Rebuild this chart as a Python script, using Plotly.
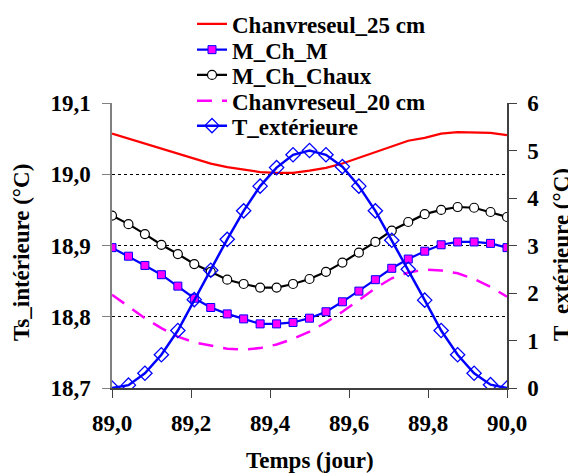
import plotly.graph_objects as go

time_days = [89.0, 89.0417, 89.0833, 89.125, 89.1667, 89.2083, 89.25, 89.2917, 89.3333,
             89.375, 89.4167, 89.4583, 89.5, 89.5417, 89.5833, 89.625, 89.6667, 89.7083,
             89.75, 89.7917, 89.8333, 89.875, 89.9167, 89.9583, 90.0]

chanvre_25 = [19.057, 19.050, 19.044, 19.037, 19.030, 19.022, 19.015, 19.010, 19.006,
              19.003, 19.002, 19.002, 19.005, 19.009, 19.015, 19.023, 19.031, 19.039,
              19.047, 19.051, 19.057, 19.059, 19.059, 19.058, 19.055]

m_ch_m = [18.897, 18.885, 18.872, 18.859, 18.843, 18.826, 18.813, 18.804, 18.797,
          18.790, 18.790, 18.792, 18.798, 18.807, 18.821, 18.836, 18.852, 18.868,
          18.881, 18.892, 18.901, 18.905, 18.905, 18.903, 18.897]

m_ch_chaux = [18.942, 18.930, 18.916, 18.901, 18.888, 18.874, 18.863, 18.852, 18.846,
              18.841, 18.841, 18.846, 18.853, 18.863, 18.876, 18.890, 18.905, 18.921,
              18.933, 18.944, 18.950, 18.954, 18.953, 18.947, 18.940]

chanvre_20 = [18.831, 18.814, 18.798, 18.784, 18.772, 18.764, 18.759, 18.755, 18.754,
              18.756, 18.761, 18.769, 18.779, 18.792, 18.807, 18.824, 18.840, 18.854,
              18.862, 18.866, 18.865, 18.861, 18.853, 18.842, 18.828]

t_exterieure = [0.0, 0.06, 0.31, 0.70, 1.21, 1.86, 2.48, 3.13, 3.73, 4.25, 4.64, 4.91,
                5.0, 4.91, 4.66, 4.25, 3.73, 3.11, 2.50, 1.85, 1.21, 0.70, 0.31, 0.07, 0.0]

x_ticks = [89.0, 89.2, 89.4, 89.6, 89.8, 90.0]
left_ticks = [18.7, 18.8, 18.9, 19.0, 19.1]
right_ticks = [0, 1, 2, 3, 4, 5, 6]

x_title = "Temps (jour)"
y_title = "Ts_intérieure (°C)"
y2_title = "T_extérieure (°C)"

FONT = "Liberation Serif"
FIG_W, FIG_H = 568, 466  # page body adds an 8 px margin

fig = go.Figure()
fig.add_trace(go.Scatter(x=time_days, y=chanvre_25, name="Chanvreseul_25 cm", mode="lines",
                         legend="legend",
                         line=dict(color="#FF0000", width=2.2)))
fig.add_trace(go.Scatter(x=time_days, y=m_ch_m, name="M_Ch_M", mode="lines+markers",
                         legend="legend2",
                         line=dict(color="#0000FF", width=2.2),
                         marker=dict(symbol="square", size=8, color="#FF00FF",
                                     line=dict(color="#0000FF", width=1))))
fig.add_trace(go.Scatter(x=time_days, y=m_ch_chaux, name="M_Ch_Chaux", mode="lines+markers",
                         legend="legend3",
                         line=dict(color="#000000", width=2.2),
                         marker=dict(symbol="circle", size=9, color="#FFFFFF",
                                     line=dict(color="#000000", width=1.2))))
fig.add_trace(go.Scatter(x=time_days, y=chanvre_20, name="Chanvreseul_20 cm", mode="lines",
                         legend="legend4",
                         line=dict(color="#FF00FF", width=2.5, dash="15px,10px")))
fig.add_trace(go.Scatter(x=time_days, y=t_exterieure, name="T_extérieure", mode="lines+markers",
                         yaxis="y2", legend="legend5",
                         line=dict(color="#0000FF", width=2.5),
                         marker=dict(symbol="diamond-open", size=11, color="#0000FF",
                                     line=dict(color="#0000FF", width=1.3))))

tickfont = dict(family=FONT, size=23, color="black", weight="bold")
titlefont = dict(family=FONT, size=23, color="black", weight="bold")
legfont = dict(family=FONT, size=23, color="black", weight="bold")

row_centers = [16, 41.7, 67, 92.7, 117.7]
legends = {}
for k, yc in enumerate(row_centers):
    key = "legend" if k == 0 else f"legend{k + 1}"
    legends[key] = dict(x=184 / FIG_W, y=1 - yc / FIG_H, xref="container", yref="container",
                        xanchor="left", yanchor="middle", font=legfont,
                        bgcolor="rgba(0,0,0,0)", borderwidth=0)

fig.update_layout(
    width=FIG_W, height=FIG_H,
    font=dict(family=FONT, color="black", weight="bold"),
    margin=dict(l=104, r=69, t=95, b=86, autoexpand=False),
    paper_bgcolor="white", plot_bgcolor="white",
    separators=", ",
    showlegend=True,
    **legends,
    xaxis=dict(range=[89.0, 90.0], tickvals=x_ticks, tickformat=".1f",
               showgrid=False, zeroline=False, showline=True, linecolor="#404040", linewidth=1.5,
               ticks="outside", ticklen=8, tickcolor="#404040", tickfont=tickfont,
               ticklabelstandoff=6),
    yaxis=dict(range=[18.7, 19.1], tickvals=left_ticks, tickformat=".1f",
               showgrid=True, gridcolor="black", griddash="dot", gridwidth=1,
               zeroline=False, showline=True, linecolor="#808080", linewidth=1.5,
               ticks="outside", ticklen=8, tickcolor="#808080", tickfont=tickfont,
               ticklabelstandoff=7),
    yaxis2=dict(range=[0, 6], tickvals=right_ticks, overlaying="y", side="right",
                showgrid=False, zeroline=False, showline=True, linecolor="#404040", linewidth=1.5,
                ticks="outside", ticklen=8, tickcolor="#404040", tickfont=tickfont,
                ticklabelstandoff=6),
    annotations=[
        dict(text=x_title, xref="paper", yref="paper", x=0.5, y=0, yshift=-72,
             xanchor="center", yanchor="middle", showarrow=False, font=titlefont),
        dict(text=y_title, xref="paper", yref="paper", x=0, y=0.474, xshift=-90,
             xanchor="center", yanchor="middle", textangle=-90, showarrow=False, font=titlefont),
        dict(text=y2_title, xref="paper", yref="paper", x=1, y=0.467, xshift=55,
             xanchor="center", yanchor="middle", textangle=-90, showarrow=False, font=titlefont),
    ],
)

fig.write_html("out.html")
